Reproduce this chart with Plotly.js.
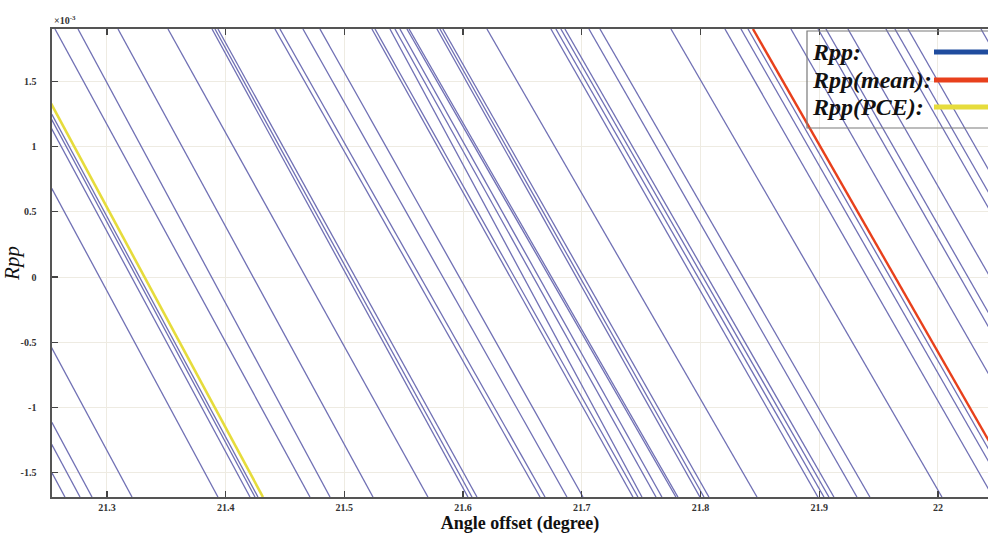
<!DOCTYPE html>
<html><head><meta charset="utf-8">
<script src="https://cdn.plot.ly/plotly-3.0.1.min.js"></script>
<style>body{margin:0;background:#fff}#chart{width:988px;height:535px}</style>
</head><body><div id="chart"></div>
<script>
// Rpp levels at which each curve's angle was read (top and bottom of the frame)
const rppLevels = [1.903e-3, -1.688e-3];

// Rpp realisations: angle (degree) where each curve crosses the two Rpp levels
const rppTopAngles = [
  21.0523, 21.0650, 21.0751, 21.1088, 21.1812, 21.2082, 21.2124, 21.2149,
  21.2562, 21.2756, 21.3093, 21.3514, 21.3885, 21.3910, 21.3935, 21.4415,
  21.4457, 21.4651, 21.4794, 21.5232, 21.5258, 21.5384, 21.5426, 21.5468,
  21.5527, 21.5545, 21.5780, 21.5805, 21.5830, 21.6201, 21.6740, 21.6782,
  21.6824, 21.6858, 21.7060, 21.7153, 21.7751, 21.8206, 21.8341, 21.8400,
  21.8762, 21.8990, 21.9057, 21.9242, 21.9562, 21.9638, 21.9748, 22.0363
];
const rppBottomAngles = [
  21.2646, 21.2773, 21.2874, 21.3211, 21.3935, 21.4205, 21.4247, 21.4272,
  21.4710, 21.4879, 21.5241, 21.5704, 21.6041, 21.6075, 21.6117, 21.6648,
  21.6690, 21.6875, 21.7010, 21.7431, 21.7473, 21.7507, 21.7625, 21.7675,
  21.7793, 21.7810, 21.7995, 21.8029, 21.8071, 21.8476, 21.8989, 21.9040,
  21.9082, 21.9124, 21.9318, 21.9427, 22.0034, 22.0464, 22.0598, 22.0657,
  22.1020, 22.1247, 22.1314, 22.1500, 22.1820, 22.1896, 22.2006, 22.2620
];
// Mean and PCE curves
const meanAngles = [21.8442, 22.0700];
const pceAngles = [21.2191, 21.4314];

const xTickVals = [21.3, 21.4, 21.5, 21.6, 21.7, 21.8, 21.9, 22.0];
const xTickText = ['21.3', '21.4', '21.5', '21.6', '21.7', '21.8', '21.9', '22'];
const yTickVals = [-1.5e-3, -1e-3, -0.5e-3, 0, 0.5e-3, 1e-3, 1.5e-3];
const yTickText = ['-1.5', '-1', '-0.5', '0', '0.5', '1', '1.5'];
const legendNames = ['Rpp:', 'Rpp(mean):', 'Rpp(PCE):'];
const legendColors = ['#1f4c9e', '#e8401c', '#e6dc3c'];

const serif = 'Liberation Serif, Times New Roman, serif';
const traces = [];
rppTopAngles.forEach((a, i) => {
  traces.push({
    x: [a, rppBottomAngles[i]], y: rppLevels, type: 'scatter', mode: 'lines',
    line: {color: '#7070b4', width: 1.3}, showlegend: false, hoverinfo: 'skip'
  });
});
traces.push({x: pceAngles, y: rppLevels, type: 'scatter', mode: 'lines',
  line: {color: legendColors[2], width: 2.6}, showlegend: false});
traces.push({x: meanAngles, y: rppLevels, type: 'scatter', mode: 'lines',
  line: {color: legendColors[1], width: 2.4}, showlegend: false});

const W = 988, H = 535, L = 52, R = 0, T = 29, B = 38;
const px = v => (v - L) / (W - L - R);
const py = v => (H - B - v) / (H - T - B);

const legendRowsY = [52, 80, 107];
const shapes = [{type: 'rect', xref: 'paper', yref: 'paper', x0: px(807), x1: 1.05,
  y0: py(128), y1: py(31), line: {color: '#7a7a7a', width: 1.2}, fillcolor: 'rgba(0,0,0,0)'}];
const annotations = [];
legendNames.forEach((n, i) => {
  annotations.push({xref: 'paper', yref: 'paper', x: px(810), y: py(legendRowsY[i]),
    xanchor: 'left', yanchor: 'middle', showarrow: false,
    text: '<b><i>' + n + '</i></b>', font: {family: serif, size: 24, color: '#111'}});
  shapes.push({type: 'line', xref: 'paper', yref: 'paper', x0: px(934), x1: 1.0,
    y0: py(legendRowsY[i]), y1: py(legendRowsY[i]), line: {color: legendColors[i], width: 5}});
});
annotations.push({xref: 'paper', yref: 'paper', x: px(52), y: py(20), xanchor: 'left',
  yanchor: 'middle', showarrow: false, text: '<b>×10<sup>-3</sup></b>',
  font: {family: serif, size: 10, color: '#333'}});

const layout = {
  width: W, height: H,
  margin: {l: L, r: R, t: T, b: B, pad: 0},
  paper_bgcolor: '#ffffff', plot_bgcolor: '#ffffff',
  showlegend: false,
  xaxis: {
    range: [21.2537, 22.0422], tickvals: xTickVals, ticktext: xTickText,
    ticks: 'inside', ticklen: 6, tickcolor: '#444', tickwidth: 1.2,
    showline: true, linecolor: '#555', linewidth: 1.6, mirror: 'ticks',
    showgrid: true, gridcolor: '#eeebe2', gridwidth: 1, zeroline: false,
    tickfont: {family: serif, size: 10, color: '#333', weight: 'bold'},
    title: {text: '<b>Angle offset (degree)</b>', font: {family: serif, size: 18, color: '#111'}, standoff: 5},
    automargin: false
  },
  yaxis: {
    range: [-1.688e-3, 1.903e-3], tickvals: yTickVals, ticktext: yTickText,
    ticks: 'inside', ticklen: 6, tickcolor: '#444', tickwidth: 1.2,
    showline: true, linecolor: '#555', linewidth: 1.6, mirror: false,
    showgrid: true, gridcolor: '#eeebe2', gridwidth: 1, zeroline: false,
    tickfont: {family: serif, size: 10, color: '#333', weight: 'bold'},
    ticklabelstandoff: 12,
    title: {text: '<i>Rpp</i>', font: {family: serif, size: 21, color: '#111'}, standoff: 2},
    automargin: false
  },
  shapes: shapes, annotations: annotations
};
Plotly.newPlot('chart', traces, layout, {displayModeBar: false, staticPlot: true});
</script></body></html>
